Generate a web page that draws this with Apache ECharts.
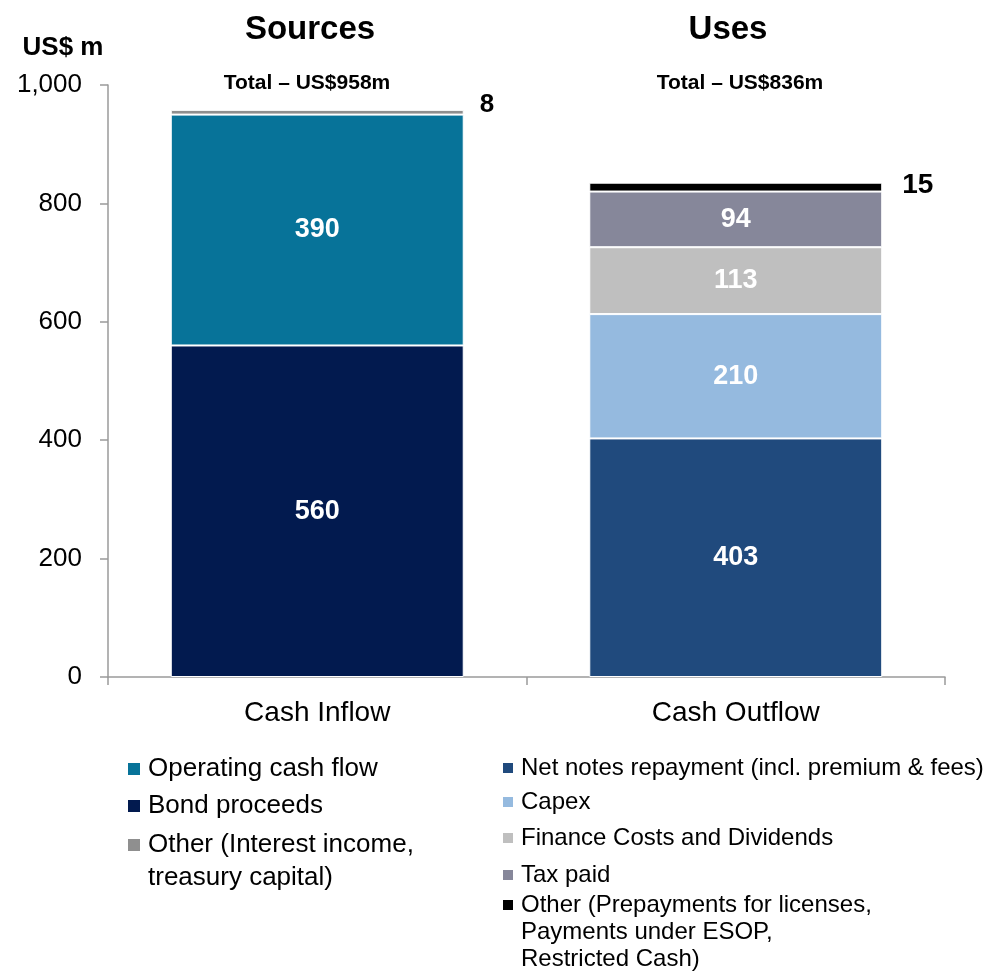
<!DOCTYPE html>
<html>
<head>
<meta charset="utf-8">
<title>Sources and Uses of Cash</title>
<script src="https://cdn.jsdelivr.net/npm/echarts@6/dist/echarts.min.js"></script>
<style>
  html, body { margin: 0; padding: 0; background: #fff; }
  #chart { width: 984px; height: 971px; }
</style>
</head>
<body>
<div id="chart"></div>
<script>
// Cash flow bars, US$ m
const categories = ['Cash Inflow', 'Cash Outflow'];

// Sources, stacked bottom to top
const sourceNames = ['Bond proceeds', 'Operating cash flow', 'Other (Interest income,\ntreasury capital)'];
const sourceValues = [560, 390, 8];
const sourceColors = ['#021a4f', '#077399', '#8f8f8f'];

// Uses, stacked bottom to top
const useNames = [
  'Net notes repayment (incl. premium & fees)',
  'Capex',
  'Finance Costs and Dividends',
  'Tax paid',
  'Other (Prepayments for licenses,\nPayments under ESOP,\nRestricted Cash)'
];
const useValues = [403, 210, 113, 94, 15];
const useColors = ['#204a7d', '#95badf', '#bfbfbf', '#86879a', '#000000'];

const yTicks = [0, 200, 400, 600, 800, 1000];
const sectionTitles = ['Sources', 'Uses'];
const totalLabels = ['Total – US$958m', 'Total – US$836m'];
const unitLabel = 'US$ m';

const FONT = '"Liberation Sans", Arial, Helvetica, sans-serif';

// Segments smaller than this get their value beside the bar instead of inside
const SMALL = 30;

function makeSeries(names, values, colors, catIndex, sideLabel) {
  return names.map((name, i) => {
    const data = categories.map((c, k) => (k === catIndex ? values[i] : '-'));
    const small = values[i] < SMALL;
    return {
      name: name,
      type: 'bar',
      stack: 'cash',
      barWidth: '70%',
      data: data,
      itemStyle: { color: colors[i], borderColor: '#ffffff', borderWidth: 1 },
      label: small ? {
        show: true,
        position: 'right',
        distance: sideLabel.distance,
        offset: sideLabel.offset,
        color: '#000',
        fontSize: sideLabel.fontSize,
        fontWeight: 'bold',
        fontFamily: FONT
      } : {
        show: true,
        position: 'inside',
        color: '#ffffff',
        fontSize: 27,
        fontWeight: 'bold',
        fontFamily: FONT
      },
      emphasis: { disabled: true }
    };
  });
}

const series = [].concat(
  makeSeries(sourceNames, sourceValues, sourceColors, 0, { distance: 16, offset: [0, -7], fontSize: 26 }),
  makeSeries(useNames, useValues, useColors, 1, { distance: 20, offset: [0, -2], fontSize: 28 })
);

// One legend block per entry so each row sits at its own height.
// The legend shows the first line of a name; continuation lines are
// placed underneath as plain text so the swatch stays beside line one.
const legendEntries = [];
const legendTail = [];

function legendEntry(name, x, yCenter, cfg) {
  const lines = name.split('\n');
  legendEntries.push({
    data: [name],
    left: x,
    top: yCenter - cfg.lineHeight / 2,
    orient: 'vertical',
    padding: 0,
    icon: 'rect',
    itemWidth: cfg.icon,
    itemHeight: cfg.icon,
    selectedMode: false,
    itemStyle: { borderWidth: 0 },
    formatter: n => n.split('\n')[0],
    textStyle: {
      color: '#000',
      fontSize: cfg.fontSize,
      lineHeight: cfg.lineHeight,
      fontFamily: FONT,
      padding: [0, 0, 0, 3]
    }
  });
  lines.slice(1).forEach((line, k) => {
    legendTail.push({
      type: 'text',
      x: x + cfg.icon + 8,
      y: yCenter + (k + 1) * cfg.lineStep,
      silent: true,
      style: {
        text: line,
        fill: '#000',
        font: cfg.fontSize + 'px ' + FONT,
        align: 'left',
        verticalAlign: 'middle',
        textAlign: 'left',
        textVerticalAlign: 'middle'
      }
    });
  });
}

const leftCfg = { icon: 12, fontSize: 26, lineHeight: 30, lineStep: 33 };
const rightCfg = { icon: 10, fontSize: 24, lineHeight: 28, lineStep: 27 };

legendEntry(sourceNames[1], 128, 769, leftCfg);
legendEntry(sourceNames[0], 128, 806, leftCfg);
legendEntry(sourceNames[2], 128, 845, leftCfg);
legendEntry(useNames[0], 503, 768, rightCfg);
legendEntry(useNames[1], 503, 802, rightCfg);
legendEntry(useNames[2], 503, 838, rightCfg);
legendEntry(useNames[3], 503, 875, rightCfg);
legendEntry(useNames[4], 503, 905, rightCfg);

function headText(text, x, yTop, size, lh) {
  return {
    text: text, left: x, top: yTop, textAlign: 'center', padding: 0,
    textStyle: { fontSize: size, fontWeight: 'bold', color: '#000', fontFamily: FONT, lineHeight: lh }
  };
}

const titles = [
  headText(sectionTitles[0], 310, 12, 33, 36),
  headText(sectionTitles[1], 728, 12, 33, 36),
  headText(unitLabel, 63, 33, 26, 30),
  headText(totalLabels[0], 307, 71, 21, 24),
  headText(totalLabels[1], 740, 71, 21, 24)
];

const chart = echarts.init(document.getElementById('chart'), null, { renderer: 'canvas' });

chart.setOption({
  animation: false,
  backgroundColor: '#ffffff',
  textStyle: { fontFamily: FONT },
  title: titles,
  legend: legendEntries,
  graphic: legendTail,
  grid: { left: 108, right: 39, top: 85, bottom: 294, containLabel: false },
  xAxis: {
    type: 'category',
    data: categories,
    boundaryGap: true,
    axisLine: { show: true, lineStyle: { color: '#9a9a9a', width: 1.5 } },
    axisTick: { show: true, length: 8, lineStyle: { color: '#9a9a9a', width: 1.5 } },
    axisLabel: { color: '#000', fontSize: 28, margin: 22, fontFamily: FONT }
  },
  yAxis: {
    type: 'value',
    min: yTicks[0],
    max: yTicks[yTicks.length - 1],
    interval: yTicks[1] - yTicks[0],
    axisLine: { show: true, lineStyle: { color: '#9a9a9a', width: 1.5 } },
    axisTick: { show: true, length: 8, lineStyle: { color: '#9a9a9a', width: 1.5 } },
    splitLine: { show: false },
    axisLabel: {
      color: '#000',
      fontSize: 26,
      margin: 26,
      fontFamily: FONT,
      formatter: v => v.toLocaleString('en-US')
    }
  },
  series: series
});
</script>
</body>
</html>
